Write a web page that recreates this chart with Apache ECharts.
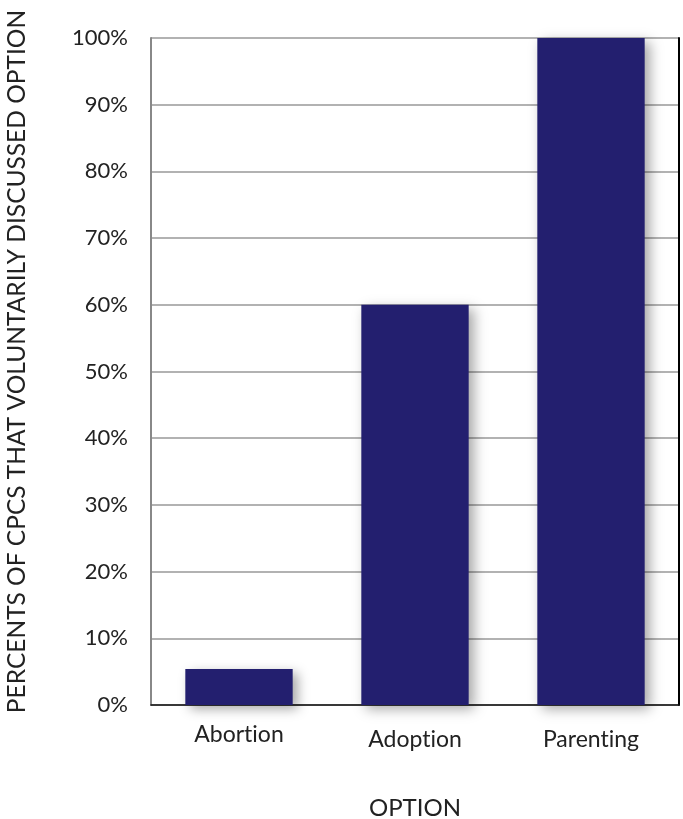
<!DOCTYPE html>
<html><head><meta charset="utf-8">
<script src="https://cdn.jsdelivr.net/npm/echarts@6/dist/echarts.min.js"></script>
<style>html,body{margin:0;padding:0;background:#fff}#c{width:683px;height:819px}</style>
</head><body><div id="c"></div>
<script>
const categories = ['Abortion', 'Adoption', 'Parenting'];
const values = [5.4, 60, 100];
const yTicks = [0, 10, 20, 30, 40, 50, 60, 70, 80, 90, 100];

const chart = echarts.init(document.getElementById('c'));
const font = 'Lato, "Noto Sans", sans-serif';
const noLig = s => s.replace(/ti/g, 't\u200Ci');
chart.setOption({
  animation: false,
  grid: { left: 151, right: 4, top: 38, bottom: 114, outerBoundsMode: 'none', containLabel: false },
  xAxis: {
    type: 'category',
    data: categories,
    name: 'OPTION',
    nameLocation: 'middle',
    nameGap: 91,
    nameTextStyle: { fontFamily: font, fontSize: 24, color: '#222' },
    axisLine: { lineStyle: { color: '#111', width: 1.5 } },
    axisTick: { show: false },
    axisLabel: {
      margin: 18,
      fontFamily: font, fontSize: 23, color: '#222',
      formatter: v => v === 'Abortion' ? '{up|' + noLig(v) + '}' : '{n|' + noLig(v) + '}',
      rich: {
        up: { fontFamily: font, fontSize: 23, color: '#222' },
        n: { fontFamily: font, fontSize: 23, color: '#222', padding: [5, 0, 0, 0] }
      }
    }
  },
  yAxis: [{
    type: 'value',
    min: yTicks[0], max: yTicks[yTicks.length - 1], interval: 10,
    name: 'PERCENTS OF CPCS THAT VOLUNTARILY DISCUSSED OPTION',
    nameLocation: 'middle',
    nameGap: 121,
    nameRotate: 90,
    nameTextStyle: { fontFamily: font, fontSize: 24.5, color: '#222', padding: [0, 0, 0, 20] },
    axisLine: { show: true, lineStyle: { color: '#888', width: 2 } },
    axisTick: { show: false },
    axisLabel: { fontFamily: font, fontSize: 22, color: '#222', margin: 23, formatter: '{value}%' },
    splitLine: { lineStyle: { color: '#999', width: 1.5 } }
  }, {
    type: 'value', position: 'right',
    min: 0, max: 100, interval: 10,
    axisLine: { show: true, lineStyle: { color: '#000', width: 2 } },
    axisTick: { show: false }, axisLabel: { show: false }, splitLine: { show: false }
  }],
  series: [{
    type: 'bar',
    data: values,
    barWidth: '61%',
    itemStyle: {
      color: '#231f6f',
      shadowColor: 'rgba(0,0,0,0.35)',
      shadowBlur: 12,
      shadowOffsetX: 5,
      shadowOffsetY: 4
    }
  }]
});
</script></body></html>
